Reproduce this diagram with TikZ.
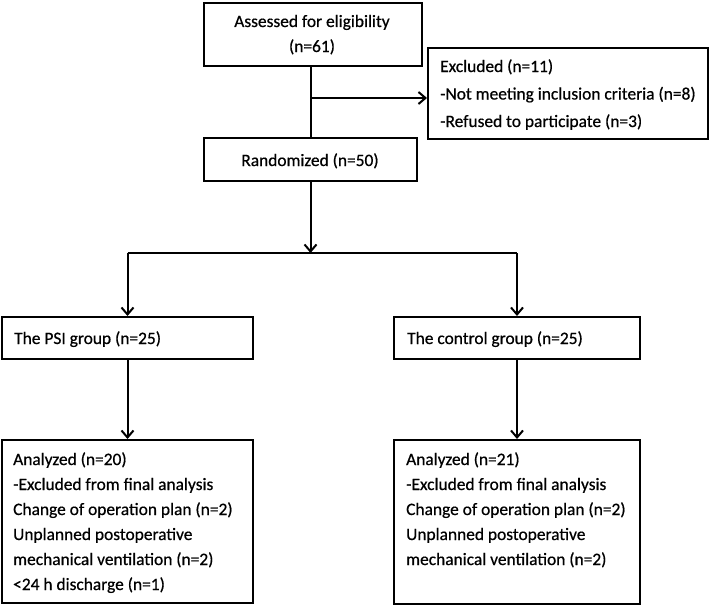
\documentclass[tikz,border=0pt]{standalone}
\usepackage{fontspec}
\setmainfont{Carlito}
\newfontfamily\dfont{Carlito}[FakeBold=0.6]
\usetikzlibrary{arrows.meta}
\begin{document}
\begin{tikzpicture}[x=1pt,y=-1pt,
  box/.style={draw, line width=2pt, rectangle, anchor=north west, inner sep=0pt},
  txt/.style={inner sep=0pt, align=left, font=\dfont\fontsize{17.4}{25}\selectfont},
  ctxt/.style={inner sep=0pt, align=center, font=\dfont\fontsize{17.4}{25}\selectfont},
  conn/.style={line width=2pt},
  arr/.style={line width=2pt, -{Straight Barb[length=7pt,width=12pt,line width=2pt]}}]
\useasboundingbox (0,0) rectangle (710,605);
% boxes
\node[box, minimum width=218pt, minimum height=63pt] (A) at (203,1.5) {};
\node[box, minimum width=280pt, minimum height=91pt] (E) at (427,47) {};
\node[box, minimum width=213pt, minimum height=43pt] (R) at (203,137) {};
\node[box, minimum width=251pt, minimum height=42pt] (P) at (1,316) {};
\node[box, minimum width=246pt, minimum height=42pt] (C) at (393,316) {};
\node[box, minimum width=251pt, minimum height=163pt] (PA) at (1,439) {};
\node[box, minimum width=246pt, minimum height=164pt] (CA) at (393,439) {};
% texts (base anchor = baseline of last line)
\node[ctxt, anchor=base] (tA) at (312,52) {Assessed for eligibility\\(n=61)};
\node[txt, anchor=base west, font=\dfont\fontsize{17.4}{27.5}\selectfont] (tE) at (440,127) {Excluded (n=11)\\-Not meeting inclusion criteria (n=8)\\-Refused to participate (n=3)};
\node[ctxt, anchor=base] (tR) at (310,166) {Randomized (n=50)};
\node[txt, anchor=base west] (tP) at (14,344) {The PSI group (n=25)};
\node[txt, anchor=base west] (tC) at (407,344) {The control group (n=25)};
\node[txt, anchor=base west] (tPA) at (13,590) {Analyzed (n=20)\\-Excluded from final analysis\\Change of operation plan (n=2)\\Unplanned postoperative\\mechanical ventilation (n=2)\\<24 h discharge (n=1)};
\node[txt, anchor=base west] (tCA) at (406,565) {Analyzed (n=21)\\-Excluded from final analysis\\Change of operation plan (n=2)\\Unplanned postoperative\\mechanical ventilation (n=2)};
% connectors
\coordinate (j1) at (R.north |- 0,98);
\coordinate (j2) at (R.south |- 0,253);
\coordinate (jl) at (P.north |- j2);
\coordinate (jr) at (C.north |- j2);
\draw[conn] (R.north |- A.south) -- (R.north);
\draw[arr] (j1) -- (j1 -| E.west);
\draw[arr] (R.south) -- (j2);
\draw[conn] (jl) -- (jr);
\draw[arr] (jl) -- (P.north);
\draw[arr] (jr) -- (C.north);
\draw[arr] (P.south) -- (PA.north);
\draw[arr] (C.south) -- (CA.north);
\end{tikzpicture}
\end{document}
